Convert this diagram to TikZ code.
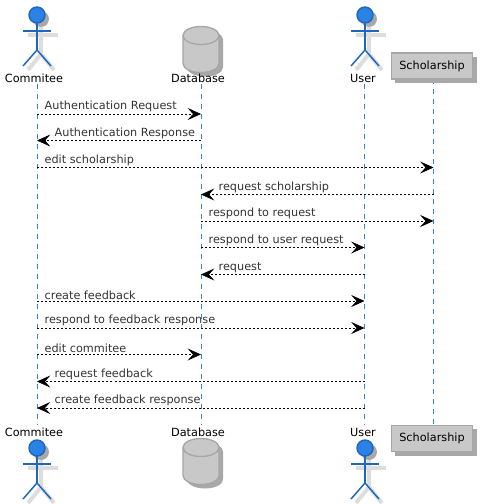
\documentclass[tikz,border=0pt]{standalone}
\usepackage{fontspec}
\setmainfont{DejaVu Sans}
\usetikzlibrary{arrows.meta}
\definecolor{actorblue}{HTML}{2A82E4}
\definecolor{actoredge}{HTML}{1F66BE}
\definecolor{lifeblue}{HTML}{2D86DC}
\definecolor{boxfill}{HTML}{C8C8C8}
\definecolor{boxedge}{HTML}{A6A6A6}
\definecolor{boxshadow}{HTML}{A8A8A8}
\definecolor{limbshadow}{HTML}{DDDDDD}
\tikzset{
    lifeline/.style={lifeblue,line width=0.75pt,dash pattern=on 3.75pt off 3.75pt},
    msgline/.style={black,line width=0.5pt,dash pattern=on 1.5pt off 1.5pt,-{Stealth[length=10pt,width=9pt,inset=4pt]}},
    msgright/.style={anchor=south west,xshift=4.5pt,yshift=0pt,inner sep=1pt,font=\fontsize{8.45}{10}\selectfont,text=black!80},
    msgleft/.style={anchor=south west,xshift=12pt,yshift=0pt,inner sep=1pt,font=\fontsize{8.45}{10}\selectfont,text=black!80},
    namelabel/.style={inner sep=0pt,font=\fontsize{8.45}{10}\selectfont,text=black},
    partbox/.style={draw=boxedge,fill=boxfill,line width=1pt,minimum width=61pt,minimum height=19.5pt,inner sep=0pt,font=\fontsize{8.45}{10}\selectfont},
    limb/.style={actoredge,line width=1.1pt},
    limbshade/.style={limbshadow,line width=3pt},
}
% stick figure, #1 = x of the body, #2 = y of the head centre
\newcommand{\actorfig}[2]{
    \fill[boxshadow] (#1+4,#2+4) circle (8);
    \draw[limbshade] (#1-9,#2+20)--(#1+21,#2+20);
    \draw[limbshade] (#1+4,#2+12)--(#1+4,#2+39)--(#1-9,#2+55);
    \draw[limbshade] (#1+4,#2+39)--(#1+17,#2+55);
    \draw[limb,fill=actorblue] (#1,#2) circle (8);
    \draw[limb] (#1,#2+8)--(#1,#2+35);
    \draw[limb] (#1-14,#2+16)--(#1+14,#2+16);
    \draw[limb] (#1-14,#2+51)--(#1,#2+35)--(#1+14,#2+51);
}
% database drum, #1 = x of the centre, #2 = y of the top
\newcommand{\drumfig}[2]{
    \fill[boxshadow] (#1-14,#2+13) arc (180:360:18 and 9)--(#1+22,#2+41) arc (0:180:18 and 9)--cycle;
    \filldraw[draw=boxedge,fill=boxfill,line width=1pt] (#1-18,#2+9) arc (180:360:18 and 9)--(#1+18,#2+37) arc (0:180:18 and 9)--cycle;
    \draw[boxedge,line width=1pt] (#1-18,#2+9) arc (180:0:18 and 9);
}
\begin{document}
\begin{tikzpicture}[x=0.75pt,y=-0.75pt]
    \useasboundingbox (0,0) rectangle (485,504);
    % lifelines
    \coordinate (comT) at (37,84);
    \coordinate (comB) at (37,425);
    \coordinate (dbT) at (201,84);
    \coordinate (dbB) at (201,425);
    \coordinate (usrT) at (364.5,84);
    \coordinate (usrB) at (364.5,425);
    \coordinate (schT) at (433.5,79);
    \coordinate (schB) at (433.5,425);
    \draw[lifeline] (comT)--(comB);
    \draw[lifeline] (dbT)--(dbB);
    \draw[lifeline] (usrT)--(usrB);
    \draw[lifeline] (schT)--(schB);
    % heads and feet
    \actorfig{37}{15}
    \actorfig{37}{448}
    \actorfig{365}{15}
    \actorfig{365}{448}
    \drumfig{201}{26.5}
    \drumfig{201}{438.5}
    \node[namelabel] (comHead) at (34,78) {Commitee};
    \node[namelabel] (dbHead) at (198,78) {Database};
    \node[namelabel] (usrHead) at (363,78) {User};
    \node[namelabel] (comFoot) at (34,432) {Commitee};
    \node[namelabel] (dbFoot) at (198,432) {Database};
    \node[namelabel] (usrFoot) at (363,432) {User};
    \fill[boxshadow] (395,57) rectangle (477,83);
    \fill[boxshadow] (395,429) rectangle (477,456);
    \node[partbox] (schHead) at (432,66) {Scholarship};
    \node[partbox] (schFoot) at (432,438.5) {Scholarship};
    % messages
    \draw[msgline] (comT|-0,114) node[msgright] (m1) {Authentication Request} -- (dbT|-0,114);
    \draw[msgline] (dbT|-0,140.5) -- (comT|-0,140.5) node[msgleft] (m2) {Authentication Response};
    \draw[msgline] (comT|-0,167.5) node[msgright] (m3) {edit scholarship} -- (schT|-0,167.5);
    \draw[msgline] (schT|-0,194.5) -- (dbT|-0,194.5) node[msgleft] (m4) {request scholarship};
    \draw[msgline] (dbT|-0,221) node[msgright] (m5) {respond to request} -- (schT|-0,221);
    \draw[msgline] (dbT|-0,247.5) node[msgright] (m6) {respond to user request} -- (usrT|-0,247.5);
    \draw[msgline] (usrT|-0,274.5) -- (dbT|-0,274.5) node[msgleft] (m7) {request};
    \draw[msgline] (comT|-0,301) node[msgright] (m8) {create feedback} -- (usrT|-0,301);
    \draw[msgline] (comT|-0,328) node[msgright] (m9) {respond to feedback response} -- (usrT|-0,328);
    \draw[msgline] (comT|-0,354.5) node[msgright] (m10) {edit commitee} -- (dbT|-0,354.5);
    \draw[msgline] (usrT|-0,381.5) -- (comT|-0,381.5) node[msgleft] (m11) {request feedback};
    \draw[msgline] (usrT|-0,408) -- (comT|-0,408) node[msgleft] (m12) {create feedback response};
\end{tikzpicture}
\end{document}
